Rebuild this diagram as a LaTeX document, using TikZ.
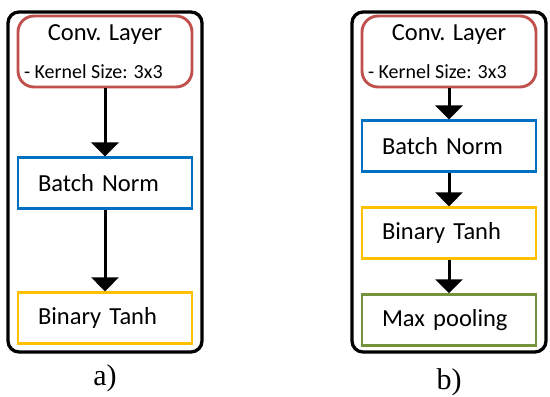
\documentclass[tikz,border=0pt]{standalone}
\usepackage{fontspec}
\usepackage{tikz}
\usepackage{xcolor}
\setsansfont{Carlito}
\newfontfamily\capfont{Liberation Serif}
\usetikzlibrary{arrows.meta,positioning}
\definecolor{lyred}{RGB}{192,80,77}
\definecolor{lyblue}{RGB}{0,112,192}
\definecolor{lyyellow}{RGB}{255,192,0}
\definecolor{lygreen}{RGB}{118,146,60}
\newcommand{\lyfont}{\sffamily\fontsize{24.5}{29}\selectfont}
\newcommand{\lykernel}{\sffamily\fontsize{20}{24}\selectfont}
\tikzset{
  lyframe/.style={draw=black, line width=3.3pt, rounded corners=11pt, minimum width=194pt, minimum height=340pt},
  lyconv/.style={draw=lyred, line width=2.9pt, rounded corners=16pt, align=center, minimum width=174pt, minimum height=71pt, inner sep=0pt, font=\lyfont},
  lybox/.style={line width=2.9pt, align=left, text width=134pt, inner xsep=20pt, inner ysep=0pt, minimum height=51pt, font=\lyfont},
  lyboxblue/.style={lybox, draw=lyblue},
  lyboxyellow/.style={lybox, draw=lyyellow},
  lyboxgreen/.style={lybox, draw=lygreen},
  lyarr/.style={-{Triangle[width=27pt,length=14pt]}, line width=3pt, draw=black},
  lycap/.style={inner sep=0pt, font=\capfont\fontsize{30}{34}\selectfont}
}
\newcommand{\lyconvtext}{Conv. Layer\\[9pt]\makebox[162pt][l]{\lykernel - Kernel Size: 3x3}}

\begin{document}
\begin{tikzpicture}[x=1pt, y=1pt]
  \useasboundingbox (0,0) rectangle (550,-397);
  % a) conv, batch norm, binary tanh
  \node[lyframe] (framea) at (105,-182) {};
  \node[lyconv] (conva) at (105,-51.5) {\lyconvtext};
  \node[lyboxblue, below=68pt of conva] (bna) {Batch Norm};
  \node[lyboxyellow, below=81pt of bna] (bta) {Binary Tanh};
  \draw[lyarr] (conva) -- (bna);
  \draw[lyarr] (bna) -- (bta);
  \node[lycap] (capa) at (105,-378) {a)};
  % b) conv, batch norm, binary tanh, max pooling
  \node[lyframe] (frameb) at (449,-182) {};
  \node[lyconv] (convb) at (449,-51.5) {\lyconvtext};
  \node[lyboxblue, below=31pt of convb] (bnb) {Batch Norm};
  \node[lyboxyellow, below=33pt of bnb] (btb) {Binary Tanh};
  \node[lyboxgreen, below=33pt of btb] (mpb) {Max pooling};
  \draw[lyarr] (convb) -- (bnb);
  \draw[lyarr] (bnb) -- (btb);
  \draw[lyarr] (btb) -- (mpb);
  \node[lycap] (capb) at (449,-382) {b)};
\end{tikzpicture}
\end{document}
